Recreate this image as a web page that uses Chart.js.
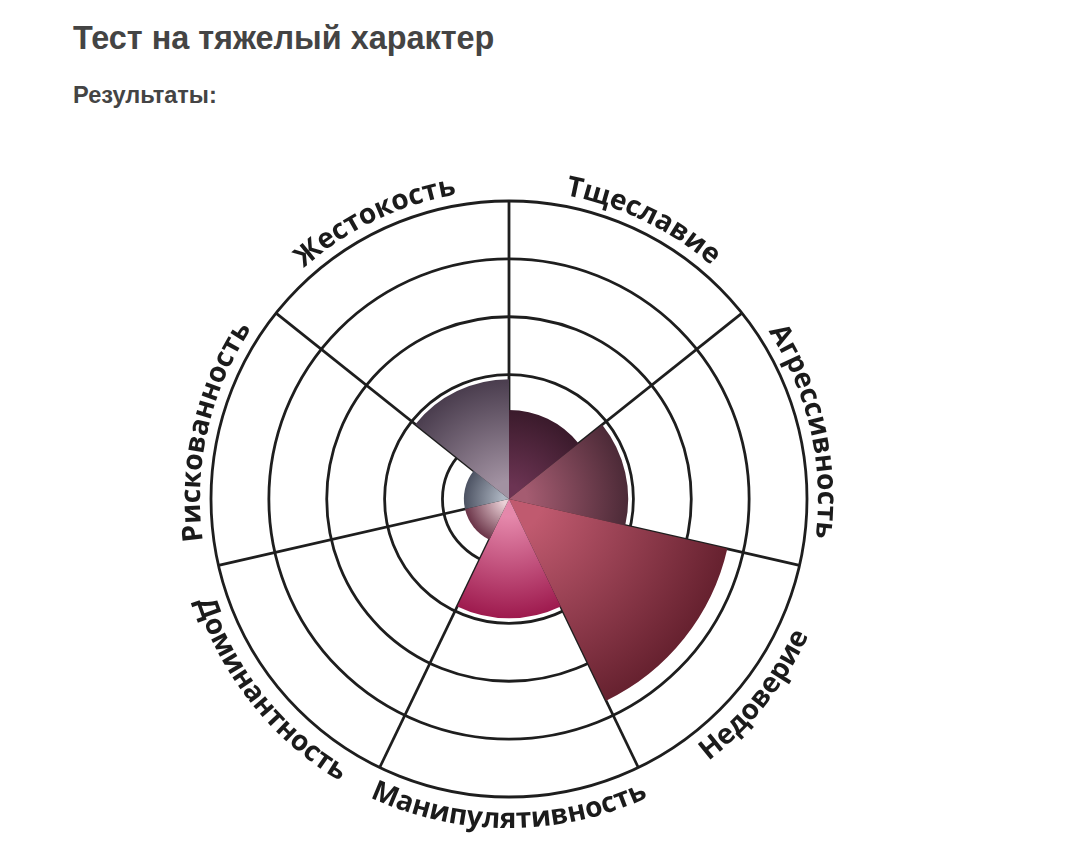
<!DOCTYPE html>
<html lang="ru">
<head>
<meta charset="utf-8">
<title>Тест на тяжелый характер</title>
<script src="https://cdn.jsdelivr.net/npm/chart.js@4.4.1/dist/chart.umd.min.js"></script>
<style>
  html, body { margin: 0; padding: 0; background: #fff; }
  body { width: 1071px; height: 857px; position: relative; overflow: hidden; }
  .title, .subtitle {
    position: absolute;
    left: 73px;
    margin: 0;
    color: #444;
    font-family: "Liberation Sans", Arial, sans-serif;
    font-weight: bold;
    line-height: 1;
    white-space: nowrap;
  }
  .title { top: 22px; font-size: 32.4px; }
  .subtitle { top: 84px; font-size: 23.6px; }
  #chartBox { position: absolute; left: 0; top: 0; width: 1071px; height: 857px; }
</style>
</head>
<body>
<h1 class="title">Тест на тяжелый характер</h1>
<h3 class="subtitle">Результаты:</h3>
<div id="chartBox"><canvas id="traitsChart" width="1071" height="857"></canvas></div>

<script>
const traits = [
  "Тщеславие",
  "Агрессивность",
  "Недоверие",
  "Манипулятивность",
  "Доминантность",
  "Рискованность",
  "Жестокость",
];
const scores = [1.39, 1.91, 3.72, 1.91, 0.63, 0.63, 1.92];
const ringTicks = [-0.15, 1, 2, 3, 4, 5];

// inner (near centre) and outer colour of every sector
const innerColors = ["#6c3453", "#a55c71", "#c05a6f", "#e588ab", "#ead0d6", "#adb5c1", "#a292a2"];
const outerColors = ["#3a1a2b", "#4c2a37", "#66212f", "#9e1a4e", "#6a3347", "#4c5262", "#4a3d4e"];

const LINE = "#1e1e1e";

function sectorFill(context) {
  const chart = context.chart;
  const scale = chart.scales.r;
  const i = context.dataIndex;
  if (!scale || scale.xCenter == null || i == null) return outerColors[i] || LINE;
  const r = Math.max(scale.getDistanceFromCenterForValue(scores[i]), 1);
  const g = chart.ctx.createRadialGradient(scale.xCenter, scale.yCenter, 0, scale.xCenter, scale.yCenter, r);
  g.addColorStop(0, innerColors[i]);
  g.addColorStop(0.15, innerColors[i]);
  g.addColorStop(1, outerColors[i]);
  return g;
}

// labels bent along the outer ring
const curvedLabels = {
  id: "curvedLabels",
  afterDraw(chart) {
    const scale = chart.scales.r;
    const ctx = chart.ctx;
    const cx = scale.xCenter;
    const cy = scale.yCenter;
    const R = scale.drawingArea;
    const step = (Math.PI * 2) / traits.length;

    ctx.save();
    ctx.font = "bold 28px 'Open Sans'";
    ctx.fillStyle = "#1b1b1b";
    ctx.textAlign = "center";
    ctx.textBaseline = "alphabetic";

    traits.forEach((label, i) => {
      const mid = (i + 0.5) * step;
      const flip = mid > Math.PI / 2 && mid < (Math.PI * 3) / 2;
      const rb = flip ? R + 31 : R + 11;
      const chars = Array.from(label);
      const widths = chars.map((c) => ctx.measureText(c).width);
      const total = widths.reduce((a, b) => a + b, 0);
      const span = total / rb;
      let run = 0;
      chars.forEach((c, k) => {
        const off = (run + widths[k] / 2) / rb;
        const a = flip ? mid + span / 2 - off : mid - span / 2 + off;
        run += widths[k];
        ctx.save();
        ctx.translate(cx + rb * Math.sin(a), cy - rb * Math.cos(a));
        ctx.rotate(flip ? a + Math.PI : a);
        ctx.fillText(c, 0, 0);
        ctx.restore();
      });
    });
    ctx.restore();
  },
};

new Chart(document.getElementById("traitsChart"), {
  type: "polarArea",
  data: {
    labels: traits,
    datasets: [
      {
        data: scores,
        backgroundColor: sectorFill,
        borderWidth: 0,
      },
    ],
  },
  options: {
    responsive: false,
    animation: false,
    layout: { padding: { left: 211, right: 264, top: 201, bottom: 60 } },
    plugins: {
      legend: { display: false },
      tooltip: { enabled: false },
    },
    scales: {
      r: {
        min: -0.15,
        max: 5,
        z: 1,
        startAngle: 0,
        afterBuildTicks: (scale) => {
          scale.ticks = ringTicks.map((v) => ({ value: v }));
        },
        ticks: { display: false },
        pointLabels: { display: false },
        grid: { circular: true, color: LINE, lineWidth: 2.8 },
        angleLines: { display: true, color: LINE, lineWidth: 2.8 },
      },
    },
  },
  plugins: [curvedLabels],
});
</script>
</body>
</html>
